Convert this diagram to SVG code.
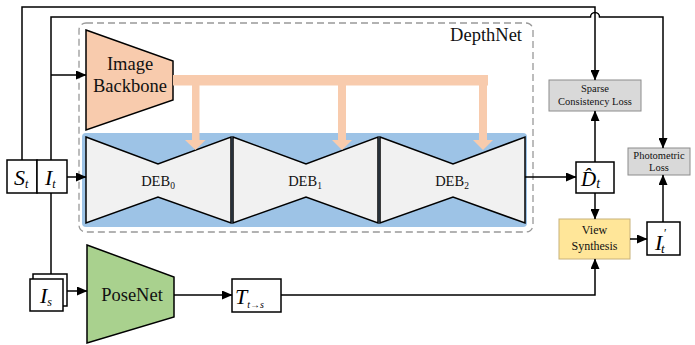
<svg xmlns="http://www.w3.org/2000/svg" width="695" height="345" viewBox="0 0 695 345" font-family="'Liberation Serif', 'Times New Roman', serif">
<defs>
<marker id="ah" markerUnits="userSpaceOnUse" markerWidth="11" markerHeight="9" refX="10" refY="4.5" orient="auto">
<path d="M0,0 L10.5,4.5 L0,9 z" fill="#000"/>
</marker>
</defs>
<style>
.ln{fill:none;stroke:#000;stroke-width:1.5}
.arr{fill:none;stroke:#000;stroke-width:1.5;marker-end:url(#ah)}
.box{fill:#fff;stroke:#000;stroke-width:1.5}
.deb{fill:#f1f1f1;stroke:#000;stroke-width:1.5;stroke-linejoin:miter}
.t{font-family:'Liberation Serif','Times New Roman',serif;fill:#111}
.m{font-family:'Liberation Serif','Times New Roman',serif;font-style:italic;fill:#000}
.loss{fill:#d9d9d9;stroke:#8c8c8c;stroke-width:1}
.orange{fill:#f8cbad}
</style>

<g id="depthnet">
<rect x="79" y="23" width="454" height="209" rx="7" fill="none" stroke="#999" stroke-width="1.3" stroke-dasharray="7,4"/>
<text class="t" x="522" y="41" font-size="18.5" text-anchor="end">DepthNet</text>
</g>

<g id="blue-bg">
<rect x="82" y="133" width="445" height="94" rx="4" fill="#9dc3e6"/>
</g>

<g id="image-backbone">
<path d="M86,30 L173,61 L173,100 L86,130 z" fill="#f8cbad" stroke="#000" stroke-width="1.5"/>
<text class="t" x="130" y="70" font-size="18.5" text-anchor="middle">Image</text>
<text class="t" x="130" y="92" font-size="18.5" text-anchor="middle">Backbone</text>
</g>

<g id="deb0">
<path class="deb" d="M86,137 L158,164 L231,137 L231,223 L158,197 L86,223 z"/>
<text class="t" x="158" y="186" font-size="14.5" text-anchor="middle">DEB<tspan font-size="9.5" dy="3">0</tspan></text>
</g>
<g id="deb1">
<path class="deb" d="M233,137 L306,164 L378,137 L378,223 L306,197 L233,223 z"/>
<text class="t" x="305" y="186" font-size="14.5" text-anchor="middle">DEB<tspan font-size="9.5" dy="3">1</tspan></text>
</g>
<g id="deb2">
<path class="deb" d="M380,137 L453,164 L525,137 L525,223 L453,197 L380,223 z"/>
<text class="t" x="452" y="186" font-size="14.5" text-anchor="middle">DEB<tspan font-size="9.5" dy="3">2</tspan></text>
</g>

<g id="skip-connections">
<rect class="orange" x="173" y="75" width="315" height="10.5"/>
<rect class="orange" x="192" y="84" width="7.5" height="57"/>
<rect class="orange" x="338" y="84" width="8" height="57"/>
<rect class="orange" x="479" y="84" width="8" height="57"/>
<path class="orange" d="M185,140 L205.5,140 L195.5,150 z"/>
<path class="orange" d="M332,140 L352,140 L342,150 z"/>
<path class="orange" d="M473,140 L493,140 L483,150 z"/>
</g>

<g id="st-it">
<rect class="box" x="7" y="160" width="30" height="33"/>
<rect class="box" x="37" y="160" width="30" height="33"/>
<text class="m" x="14" y="185" font-size="22">S<tspan font-size="12" dy="3">t</tspan></text>
<text class="m" x="45" y="185" font-size="22">I<tspan font-size="12" dy="3">t</tspan></text>
</g>

<g id="is">
<rect class="box" x="33" y="274" width="34" height="32"/>
<rect class="box" x="30" y="279" width="33" height="32"/>
<text class="m" x="40" y="303" font-size="22">I<tspan font-size="12" dy="3">s</tspan></text>
</g>

<g id="posenet">
<path d="M87,245 L174,277 L174,317 L87,343 z" fill="#a9d18e" stroke="#000" stroke-width="1.5"/>
<text class="t" x="132" y="301" font-size="18.5" text-anchor="middle">PoseNet</text>
</g>

<g id="t-box">
<rect class="box" x="232" y="279" width="49" height="33"/>
<text class="m" x="235" y="304" font-size="22">T<tspan font-size="10" dy="4">t→s</tspan></text>
</g>

<g id="dt-box">
<rect class="box" x="576" y="162" width="38" height="31"/>
<text class="m" x="581" y="186" font-size="21">D̂<tspan font-size="14" dy="2">t</tspan></text>
</g>

<g id="sparse-loss">
<rect class="loss" x="549" y="80" width="92" height="31"/>
<text class="t" x="595" y="92" font-size="10.5" text-anchor="middle" fill="#333">Sparse</text>
<text class="t" x="595" y="105" font-size="10.5" text-anchor="middle" fill="#333">Consistency Loss</text>
</g>

<g id="photometric-loss">
<rect class="loss" x="628" y="148" width="62" height="27"/>
<text class="t" x="659" y="159" font-size="10.5" text-anchor="middle" fill="#333">Photometric</text>
<text class="t" x="659" y="171" font-size="10.5" text-anchor="middle" fill="#333">Loss</text>
</g>

<g id="view-synthesis">
<rect x="559" y="219" width="71" height="40" fill="#ffe699" stroke="#c8b27a" stroke-width="1"/>
<text class="t" x="594.5" y="234" font-size="12" text-anchor="middle" fill="#333">View</text>
<text class="t" x="594.5" y="250" font-size="12" text-anchor="middle" fill="#333">Synthesis</text>
</g>

<g id="it-prime">
<rect class="box" x="647" y="222" width="33" height="33"/>
<text class="m" x="655" y="250" font-size="22">I<tspan font-size="12" dx="1" dy="-13">′</tspan><tspan font-size="13" dx="-5" dy="16">t</tspan></text>
</g>

<g id="connectors">
<path class="arr" d="M22,160 V7 H595 V80"/>
<path class="arr" d="M51,160 V17 H590.5 A4.5,4.5 0 0 1 599.5,17 H663 V148"/>
<path class="arr" d="M51,75 H86"/>
<path class="ln" d="M51,193 V274"/>
<path class="arr" d="M67,177 H86"/>
<path class="arr" d="M67,291 H87"/>
<path class="arr" d="M174,295 H232"/>
<path class="arr" d="M281,295 H595 V259"/>
<path class="arr" d="M525,177 H576"/>
<path class="arr" d="M595,162 V111"/>
<path class="arr" d="M595,193 V219"/>
<path class="arr" d="M630,239 H647"/>
<path class="arr" d="M663,222 V175"/>
</g>
</svg>
